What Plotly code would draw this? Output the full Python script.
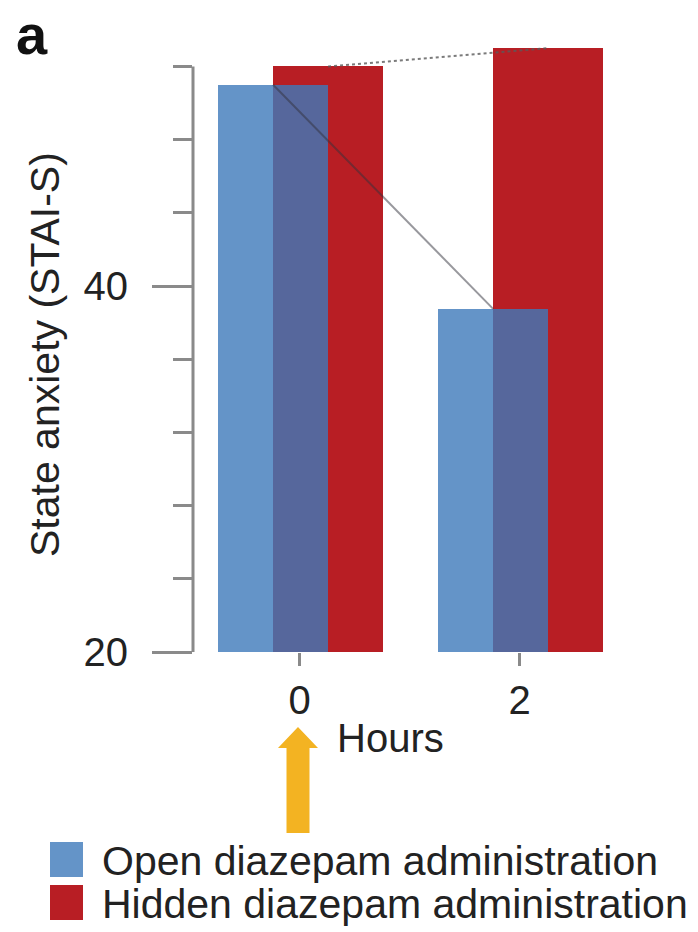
import plotly.graph_objects as go

# ---- data ----
hours = [0, 2]
open_vals = [51.0, 38.75]     # Open diazepam administration
hidden_vals = [52.0, 53.0]    # Hidden diazepam administration
y_tick_vals = [20, 40]
y_tick_text = ["20", "40"]
x_tick_vals = [0, 2]
x_tick_text = ["0", "2"]
series_names = ["Open diazepam administration", "Hidden diazepam administration"]

# ---- styles ----
W, H = 698, 932
L, R, T, B = 193, 91, 28, 280
FONT = "Liberation Sans, Arial, sans-serif"
BLUE_T = "rgba(61,121,186,0.8)"
BLUE = "#6494c8"
RED = "#b81e24"
GRAY = "#8a8a8a"
OFF_OPEN, OFF_HID, BW = -0.24, 0.26, 1.0

pw, ph = W - L - R, H - T - B
def px(x):
    return (x - L) / pw
def py(y):
    return (H - B - y) / ph

fig = go.Figure()
fig.add_trace(go.Bar(x=[h + OFF_HID for h in hours], y=hidden_vals, width=BW,
                     marker=dict(color=RED, line=dict(width=0)), name=series_names[1],
                     showlegend=False))
fig.add_trace(go.Bar(x=[h + OFF_OPEN for h in hours], y=open_vals, width=BW,
                     marker=dict(color=BLUE_T, line=dict(width=0)), name=series_names[0],
                     showlegend=False))
fig.add_trace(go.Scatter(x=[h + OFF_OPEN for h in hours], y=open_vals, mode="lines",
                         line=dict(color="rgba(50,50,60,0.5)", width=2), showlegend=False))
fig.add_trace(go.Scatter(x=[h + OFF_HID for h in hours], y=hidden_vals, mode="lines",
                         line=dict(color="rgba(90,90,90,0.8)", width=2, dash="dot"),
                         showlegend=False))

fig.update_layout(
    width=W, height=H, margin=dict(l=L, r=R, t=T, b=B),
    paper_bgcolor="white", plot_bgcolor="white",
    barmode="overlay", bargap=0,
    font=dict(family=FONT, size=40, color="#222222"),
    xaxis=dict(range=[-0.968, 2.795], tickvals=x_tick_vals, ticktext=x_tick_text,
               ticks="outside", ticklen=13, tickwidth=2.5, tickcolor=GRAY,
               showgrid=False, zeroline=False, showline=False,
               ticklabelstandoff=0, tickfont=dict(size=40)),
    yaxis=dict(range=[20, 54.1], tickvals=y_tick_vals, ticktext=y_tick_text,
               ticks="outside", ticklen=40, tickwidth=2.5, tickcolor=GRAY,
               showgrid=False, zeroline=False, showline=False,
               ticklabelstandoff=16, tickfont=dict(size=40),
               minor=dict(tickvals=[24, 28, 32, 36, 44, 48, 52], ticks="outside",
                          ticklen=19, tickwidth=2.5, tickcolor=GRAY, showgrid=False)),
)

# y axis line (only from 20 to 52)
fig.add_shape(type="line", xref="paper", yref="y", x0=0, x1=0, y0=20, y1=52,
              line=dict(color=GRAY, width=3))

# y-axis title
fig.add_annotation(text="State anxiety (STAI-S)", textangle=-90, showarrow=False,
                   xref="paper", yref="paper", x=px(45), y=py(355),
                   xanchor="center", yanchor="middle", font=dict(size=41, color="#222222"))
# x-axis title
fig.add_annotation(text="Hours", showarrow=False, xref="paper", yref="paper",
                   x=px(335), y=py(738), xanchor="left", yanchor="middle",
                   font=dict(size=40, color="#222222"))
# panel label
fig.add_annotation(text="<b>a</b>", showarrow=False, xref="paper", yref="paper",
                   x=px(14), y=py(1), xanchor="left", yanchor="top",
                   font=dict(size=56, color="#111111"))

# orange arrow
cx, tip, hb, bot, hw, sw = 298, 727, 748, 833, 20, 11.5
pts = [(cx, tip), (cx + hw, hb), (cx + sw, hb), (cx + sw, bot), (cx - sw, bot),
       (cx - sw, hb), (cx - hw, hb)]
path = "M " + " L ".join(f"{px(x):.5f},{py(y):.5f}" for x, y in pts) + " Z"
fig.add_shape(type="path", xref="paper", yref="paper", path=path,
              fillcolor="#f3b322", line=dict(width=0))

# legend
for i, (name, col) in enumerate(zip(series_names, [BLUE, RED])):
    y0 = 842 + i * 43
    fig.add_shape(type="rect", xref="paper", yref="paper",
                  x0=px(50), x1=px(83), y0=py(y0), y1=py(y0 + 35),
                  fillcolor=col, line=dict(width=0))
    fig.add_annotation(text=name, showarrow=False, xref="paper", yref="paper",
                       x=px(100), y=py(y0 + 19), xanchor="left", yanchor="middle",
                       font=dict(size=41, color="#222222"))

fig.write_html("out.html")
